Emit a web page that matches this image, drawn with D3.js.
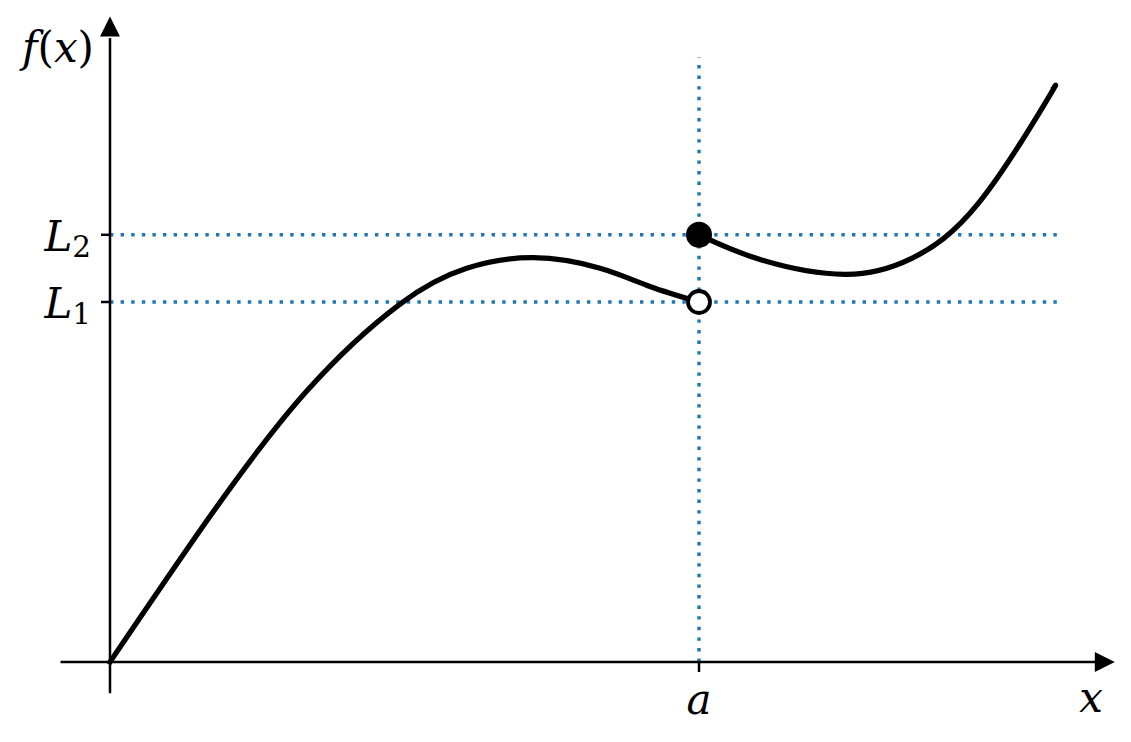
<!DOCTYPE html>
<html>
<head>
<meta charset="utf-8">
<script src="https://cdn.jsdelivr.net/npm/d3@7"></script>
<style>
  html, body { margin: 0; padding: 0; background: #fff; }
  svg text { font-family: "DejaVu Serif", serif; fill: #000; }
</style>
</head>
<body>
<svg id="chart" width="1131" height="742"></svg>
<script>
// curve: left piece ends at x = a (open), right piece starts there (closed)
var leftX  = [0, 0.849, 1.670, 2.462, 3.028, 3.593, 4.160, 4.584, 5.0];
var leftY  = [0, 1.214, 2.258, 2.983, 3.281, 3.369, 3.281, 3.129, 3.0];
var rightX = [5.0, 5.532, 6.239, 6.806, 7.371, 7.937, 8.014];
var rightY = [3.56, 3.350, 3.231, 3.364, 3.822, 4.656, 4.788];

var aValue = 5.0;
var limits = [3.0, 3.56];          // L1, L2
var limitLabels = ["1", "2"];      // subscripts

var svg = d3.select("#chart");

var x = d3.scaleLinear().domain([0, 5]).range([110, 699]);
var y = d3.scaleLinear().domain([0, 3]).range([662, 302]);

var blue = "#1f77b4";

// dotted guides
var guides = svg.append("g")
    .attr("stroke", blue)
    .attr("stroke-width", 3.4)
    .attr("stroke-dasharray", "3.4 7.2")
    .attr("fill", "none");

guides.append("line")
    .attr("x1", x(aValue)).attr("x2", x(aValue))
    .attr("y1", y(0)).attr("y2", y(5.04));

limits.forEach(function(L) {
    guides.append("line")
        .attr("x1", x(0)).attr("x2", x(8.04))
        .attr("y1", y(L)).attr("y2", y(L));
});

// axes
var axes = svg.append("g").attr("stroke", "#000").attr("stroke-width", 2.5);
axes.append("line")
    .attr("x1", x(-0.42)).attr("x2", x(8.38))
    .attr("y1", y(0)).attr("y2", y(0));
axes.append("line")
    .attr("x1", x(0)).attr("x2", x(0))
    .attr("y1", y(-0.26)).attr("y2", y(5.2));

// arrow heads
var xTip = x(8.53), yTip = y(5.38);
svg.append("path")
    .attr("d", "M" + xTip + "," + y(0) + " L" + (xTip - 20) + "," + (y(0) - 10) + " L" + (xTip - 20) + "," + (y(0) + 10) + " Z")
    .attr("fill", "#000");
svg.append("path")
    .attr("d", "M" + x(0) + "," + yTip + " L" + (x(0) - 10) + "," + (yTip + 20) + " L" + (x(0) + 10) + "," + (yTip + 20) + " Z")
    .attr("fill", "#000");

// ticks
limits.forEach(function(L) {
    axes.append("line")
        .attr("x1", x(0) - 9).attr("x2", x(0))
        .attr("y1", y(L)).attr("y2", y(L));
});
axes.append("line")
    .attr("x1", x(aValue)).attr("x2", x(aValue))
    .attr("y1", y(0)).attr("y2", y(0) + 10);

// curve
var line = d3.line()
    .x(function(d) { return x(d[0]); })
    .y(function(d) { return y(d[1]); })
    .curve(d3.curveNatural);

[[leftX, leftY], [rightX, rightY]].forEach(function(piece) {
    var pts = piece[0].map(function(v, i) { return [v, piece[1][i]]; });
    svg.append("path")
        .datum(pts)
        .attr("d", line)
        .attr("fill", "none")
        .attr("stroke", "#000")
        .attr("stroke-width", 5.3)
        .attr("stroke-linecap", "square");
});

// endpoint markers
svg.append("circle")
    .attr("cx", x(aValue)).attr("cy", y(leftY[leftY.length - 1]))
    .attr("r", 11)
    .attr("fill", "#fff")
    .attr("stroke", "#000")
    .attr("stroke-width", 3.8);
svg.append("circle")
    .attr("cx", x(aValue)).attr("cy", y(rightY[0]))
    .attr("r", 13)
    .attr("fill", "#000");

// labels
var fs = 42;
limits.forEach(function(L, i) {
    var t = svg.append("text")
        .attr("x", 91)
        .attr("y", y(L) + 16)
        .attr("text-anchor", "end")
        .attr("font-size", fs);
    t.append("tspan").attr("font-style", "italic").text("L");
    t.append("tspan")
        .attr("font-size", fs * 0.7)
        .attr("dy", 6)
        .text(limitLabels[i]);
});

svg.append("text")
    .attr("x", x(aValue))
    .attr("y", 714)
    .attr("text-anchor", "middle")
    .attr("font-size", fs)
    .attr("font-style", "italic")
    .text("a");

svg.append("text")
    .attr("x", 1103)
    .attr("y", 712)
    .attr("text-anchor", "end")
    .attr("font-size", fs)
    .attr("font-style", "italic")
    .text("x");

var fx = svg.append("text")
    .attr("x", 94)
    .attr("y", 62)
    .attr("text-anchor", "end")
    .attr("font-size", fs);
fx.append("tspan").attr("font-style", "italic").text("f");
fx.append("tspan").text("(");
fx.append("tspan").attr("font-style", "italic").text("x");
fx.append("tspan").text(")");
</script>
</body>
</html>
